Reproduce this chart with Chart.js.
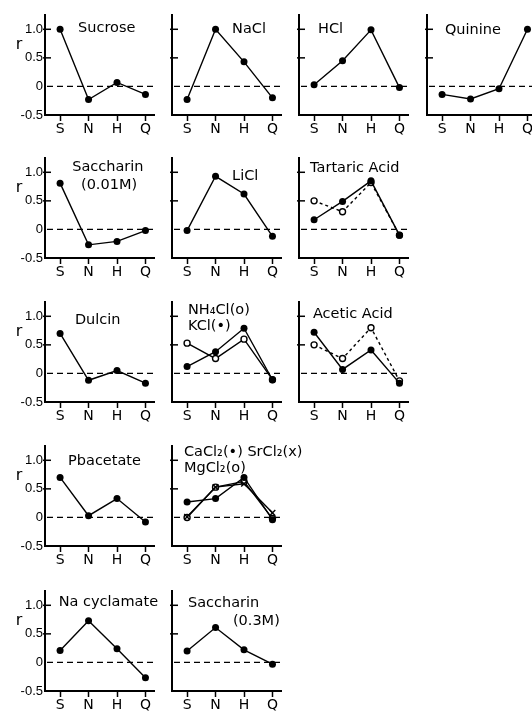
<!DOCTYPE html>
<html>
<head>
<meta charset="utf-8">
<script src="https://cdn.jsdelivr.net/npm/chart.js@4.4.0/dist/chart.umd.min.js"></script>
<style>
  html, body { margin:0; padding:0; background:#fff; overflow:hidden; }
  #fig { position:relative; width:532px; height:711px; overflow:hidden; }
  .panel { position:absolute; }
</style>
</head>
<body>
<div id="fig"></div>
<script>
// taste qualities along the x axis
const categories = ['S', 'N', 'H', 'Q'];
const yTicks = [-0.5, 0, 0.5, 1.0];
const yTickLabels = ['-0.5', '0', '0.5', '1.0'];

// correlation coefficient r for each stimulus (S, N, H, Q)
const sucrose      = [1.0, -0.23, 0.07, -0.14];
const nacl         = [-0.23, 1.0, 0.43, -0.2];
const hcl          = [0.03, 0.45, 0.99, -0.02];
const quinine      = [-0.14, -0.22, -0.04, 1.0];
const saccharin001 = [0.81, -0.27, -0.21, -0.02];
const licl         = [-0.02, 0.93, 0.62, -0.12];
const tartaricA    = [0.17, 0.49, 0.85, -0.1];
const tartaricB    = [0.5, 0.31, 0.82, -0.1];
const dulcin       = [0.70, -0.12, 0.05, -0.17];
const nh4cl        = [0.53, 0.26, 0.60, -0.11];
const kcl          = [0.12, 0.38, 0.79, -0.11];
const aceticA      = [0.72, 0.07, 0.41, -0.17];
const aceticB      = [0.5, 0.26, 0.8, -0.13];
const pbacetate    = [0.70, 0.03, 0.33, -0.08];
const cacl2        = [0.27, 0.33, 0.70, -0.04];
const mgcl2        = [0.0, 0.53, 0.63, -0.02];
const srcl2        = [0.01, 0.53, 0.59, 0.08];
const naCyclamate  = [0.21, 0.73, 0.24, -0.27];
const saccharin03  = [0.2, 0.61, 0.22, -0.03];

// panel grid (left axis x, zero line y)
const colAxisX = [45, 172, 299, 427];
const rowZeroY = [86, 229, 373, 517, 662];

// titles are placed in data units: [text, x, y, align]
const panels = [
  {col:0, row:0, titles:[['Sucrose', 0.63, 1.01, 'left']], series:[[sucrose, 'dot']]},
  {col:1, row:0, titles:[['NaCl', 1.58, 1.0, 'left']], series:[[nacl, 'dot']]},
  {col:2, row:0, titles:[['HCl', 0.14, 1.0, 'left']], series:[[hcl, 'dot']]},
  {col:3, row:0, titles:[['Quinine', 0.1, 0.98, 'left']], series:[[quinine, 'dot']]},
  {col:0, row:1, titles:[['Saccharin', 1.68, 1.09, 'center'], ['(0.01M)', 1.72, 0.77, 'center']], series:[[saccharin001, 'dot']]},
  {col:1, row:1, titles:[['LiCl', 1.58, 0.93, 'left']], series:[[licl, 'dot']]},
  {col:2, row:1, titles:[['Tartaric Acid', -0.14, 1.07, 'left']], series:[[tartaricA, 'dot'], [tartaricB, 'ringDash']]},
  {col:0, row:2, titles:[['Dulcin', 0.52, 0.93, 'left']], series:[[dulcin, 'dot']]},
  {col:1, row:2, titles:[['NH\u2084Cl(o)', 0.03, 1.1, 'left'], ['KCl(\u2022)', 0.03, 0.82, 'left']], series:[[kcl, 'dot'], [nh4cl, 'ring']]},
  {col:2, row:2, titles:[['Acetic Acid', -0.04, 1.03, 'left']], series:[[aceticA, 'dot'], [aceticB, 'ringDash']]},
  {col:0, row:3, titles:[['Pbacetate', 0.28, 0.98, 'left']], series:[[pbacetate, 'dot']]},
  {col:1, row:3, titles:[['CaCl\u2082(\u2022) SrCl\u2082(x)', -0.11, 1.14, 'left'], ['MgCl\u2082(o)', -0.11, 0.86, 'left']], series:[[cacl2, 'dot'], [srcl2, 'cross'], [mgcl2, 'ring']]},
  {col:0, row:4, titles:[['Na cyclamate', -0.05, 1.05, 'left']], series:[[naCyclamate, 'dot']]},
  {col:1, row:4, titles:[['Saccharin', 0.03, 1.03, 'left'], ['(0.3M)', 1.61, 0.72, 'left']], series:[[saccharin03, 'dot']]}
];

const markStyles = {
  dot:      {pointStyle:'circle', pointRadius:3.5, pointBackgroundColor:'#000', pointBorderWidth:0, borderDash:[]},
  ring:     {pointStyle:'circle', pointRadius:3, pointBackgroundColor:'#fff', pointBorderWidth:1.4, borderDash:[]},
  ringDash: {pointStyle:'circle', pointRadius:3, pointBackgroundColor:'#fff', pointBorderWidth:1.4, borderDash:[3, 3]},
  cross:    {pointStyle:'crossRot', pointRadius:4, pointBackgroundColor:'#000', pointBorderWidth:1.4, borderDash:[]}
};

const decor = {
  id: 'decor',
  beforeDatasetsDraw(chart, args, opts) {
    const {ctx, chartArea: a, scales: {x, y}} = chart;
    ctx.save();
    ctx.strokeStyle = '#000';
    // dashed zero line
    ctx.lineWidth = 1.2;
    ctx.setLineDash([6, 4]);
    const y0 = y.getPixelForValue(0);
    ctx.beginPath(); ctx.moveTo(a.left + 2, y0); ctx.lineTo(a.right + 2, y0); ctx.stroke();
    // inner tick marks on the r axis
    ctx.setLineDash([]);
    ctx.lineWidth = 1.5;
    [0.5, 1.0].forEach(v => {
      const p = y.getPixelForValue(v);
      ctx.beginPath(); ctx.moveTo(a.left - 2, p); ctx.lineTo(a.left + 6, p); ctx.stroke();
    });
    ctx.restore();
  },
  afterDatasetsDraw(chart, args, opts) {
    const {ctx, chartArea: a, scales: {x, y}} = chart;
    ctx.save();
    ctx.fillStyle = '#000';
    ctx.textBaseline = 'middle';
    ctx.font = '14.5px "DejaVu Sans"';
    opts.titles.forEach(([t, xv, yv, al]) => {
      ctx.textAlign = al;
      ctx.fillText(t, x.getPixelForValue(xv), y.getPixelForValue(yv));
    });
    if (opts.showR) {
      ctx.font = '16px "DejaVu Sans"';
      ctx.textAlign = 'center';
      ctx.fillText('r', a.left - 26, y.getPixelForValue(0.72));
    }
    ctx.restore();
  }
};

const fig = document.getElementById('fig');

panels.forEach(p => {
  const div = document.createElement('div');
  div.className = 'panel';
  div.style.left = (colAxisX[p.col] - 45) + 'px';
  div.style.top = Math.round(rowZeroY[p.row] - 91.4) + 'px';
  const canvas = document.createElement('canvas');
  canvas.width = 194;
  canvas.height = 145;
  div.appendChild(canvas);
  fig.appendChild(div);

  const first = p.col === 0;
  new Chart(canvas.getContext('2d'), {
    type: 'line',
    data: {
      datasets: p.series.map(([vals, mark]) => Object.assign({
        data: vals.map((v, i) => ({x: i, y: v})),
        borderColor: '#000',
        borderWidth: 1.4,
        pointBorderColor: '#000',
        tension: 0,
        clip: false
      }, markStyles[mark]))
    },
    options: {
      responsive: false,
      animation: false,
      layout: {padding: {top: 20, right: 40, left: 0, bottom: 0}},
      plugins: {
        legend: {display: false},
        tooltip: {enabled: false},
        decor: {titles: p.titles, showR: first}
      },
      scales: {
        x: {
          type: 'linear',
          min: -0.53,
          max: 3.3,
          afterBuildTicks: s => { s.ticks = categories.map((c, i) => ({value: i})); },
          afterFit: s => { s.height = 25; },
          ticks: {
            callback: (v, i) => categories[i],
            color: '#000',
            padding: 0,
            maxRotation: 0,
            font: {family: 'DejaVu Sans', size: 14}
          },
          grid: {display: true, drawOnChartArea: false, drawTicks: true, tickLength: 6, tickColor: '#000', tickWidth: 1.5},
          border: {display: true, color: '#000', width: 2}
        },
        y: {
          type: 'linear',
          min: -0.5,
          max: 1.25,
          afterBuildTicks: s => { s.ticks = yTicks.map(v => ({value: v})); },
          afterFit: s => { s.width = 45; },
          ticks: {
            display: first,
            callback: (v, i) => yTickLabels[i],
            color: '#000',
            padding: 2,
            font: {family: 'Liberation Sans', size: 13}
          },
          grid: {display: false, drawTicks: false},
          border: {display: true, color: '#000', width: 2}
        }
      }
    },
    plugins: [decor]
  });
});
</script>
</body>
</html>
